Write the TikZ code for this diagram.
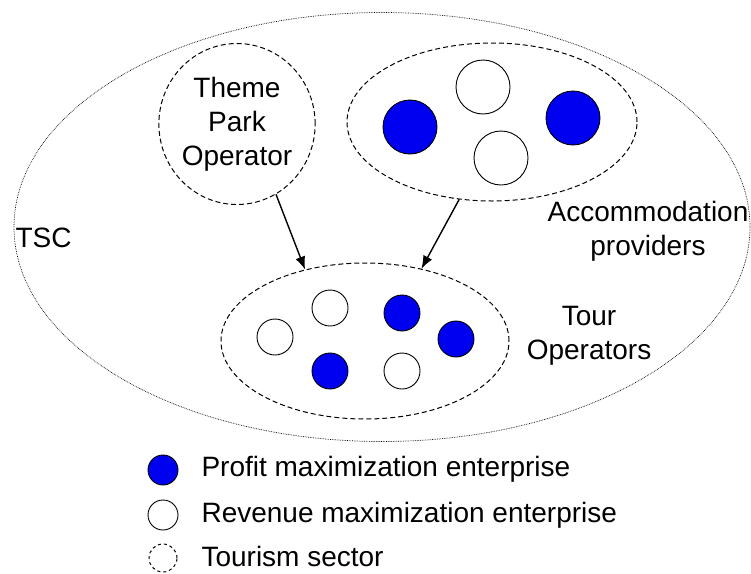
\documentclass[tikz,border=0pt]{standalone}
\usepackage{fontspec}
\setmainfont{Liberation Sans}
\usetikzlibrary{arrows.meta}
\usetikzlibrary{shapes.geometric}
\usetikzlibrary{positioning}
\definecolor{pblue}{rgb}{0, 0, 0.94}
\tikzset{sector/.style = {draw, ellipse, dashed, dash pattern = on 5pt off 3pt,
                          line width = 1pt, inner sep = 0}}
\tikzset{profit/.style = {draw, circle, fill = pblue, line width = 0.9pt, inner sep = 0}}
\tikzset{revenue/.style = {draw, circle, fill = white, line width = 0.9pt, inner sep = 0}}
\tikzset{link/.style = {-{Latex[length=13pt, width=10pt]}, line width = 1.4pt}}

\begin{document}
\begin{tikzpicture}[x=1pt, y=-1pt, font=\fontsize{28}{34}\selectfont]
    \useasboundingbox (0, 0) rectangle (751, 573);

    % whole chain
    \node [draw, ellipse, densely dotted, line width = 0.7pt, minimum width = 736,
           minimum height = 429] (tsc) at (382, 227) {};
    \node [right] (tsclabel) at (12, 238) {TSC};

    % sectors
    \node [sector, minimum width = 156, minimum height = 161, align = center]
          (theme) at (237, 124) {Theme\\Park\\Operator};
    \node [sector, minimum width = 290, minimum height = 158] (accom) at (492, 122) {};
    \node [sector, minimum width = 288, minimum height = 156] (tour) at (365, 341) {};

    \node [align = center] (accomlabel) at (648, 231) {Accommodation\\providers};
    \node [align = center] (tourlabel) at (589, 336) {Tour\\Operators};

    % accommodation providers
    \node [profit, minimum size = 54] (a1) at (410, 127) {};
    \node [revenue, minimum size = 54] (a2) at (483, 87) {};
    \node [revenue, minimum size = 54] (a3) at (501, 158) {};
    \node [profit, minimum size = 54] (a4) at (573, 118) {};

    % tour operators
    \node [revenue, minimum size = 36] (t1) at (275, 337) {};
    \node [revenue, minimum size = 36] (t2) at (330, 308) {};
    \node [profit, minimum size = 36] (t3) at (402, 313) {};
    \node [profit, minimum size = 36] (t4) at (456, 339) {};
    \node [profit, minimum size = 36] (t5) at (330, 371) {};
    \node [revenue, minimum size = 36] (t6) at (402, 371) {};

    \draw [link] (theme.-61) -- (tour.130);
    \draw [link] (accom.-113) -- (tour.52);

    % legend
    \node [profit, minimum size = 30] (lp) at (163, 470) {};
    \node [revenue, minimum size = 30] (lr) at (163, 515) {};
    \node [sector, minimum size = 28, dash pattern = on 3pt off 3pt] (ls) at (163, 558) {};
    \node [right] (lptext) at (198, 469) {Profit maximization enterprise};
    \node [right] (lrtext) at (198, 515) {Revenue maximization enterprise};
    \node [right] (lstext) at (198, 556) {Tourism sector};
\end{tikzpicture}
\end{document}
